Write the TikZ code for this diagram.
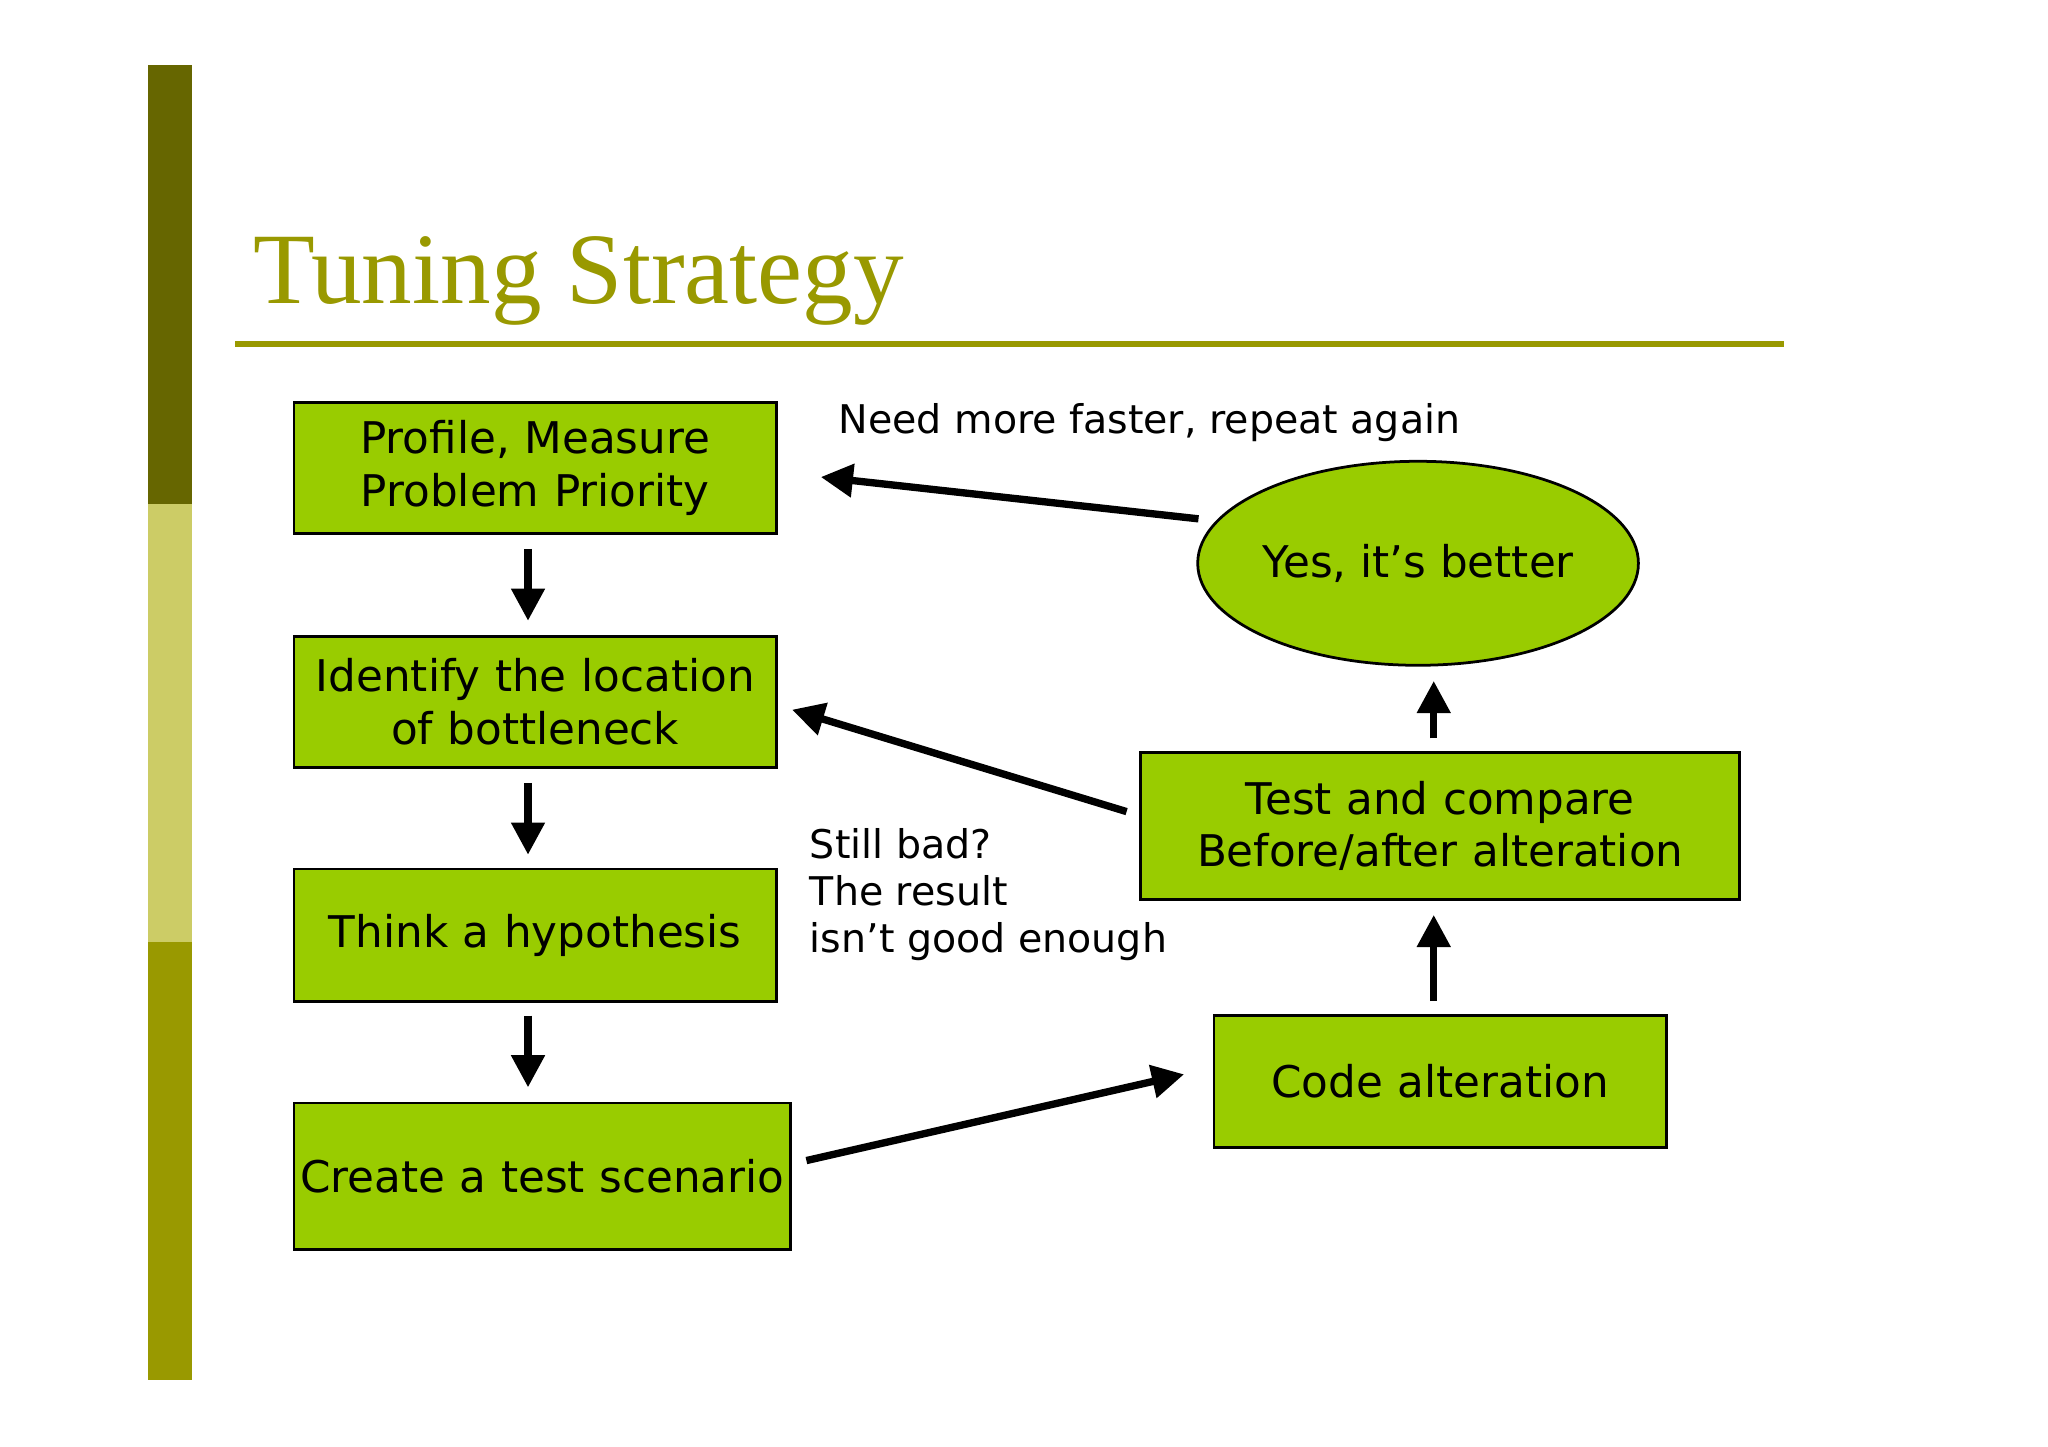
\documentclass[tikz,border=0pt]{standalone}
\usepackage{fontspec}
\setmainfont{DejaVu Sans}
\newfontfamily\titlefont{Liberation Serif}
\usetikzlibrary{arrows.meta,shapes.geometric}
\definecolor{boxg}{HTML}{99CC00}
\definecolor{olive}{HTML}{999900}
\definecolor{darkol}{HTML}{666600}
\definecolor{lightol}{HTML}{CCCC66}
\begin{document}
\begin{tikzpicture}[x=0.01cm,y=-0.01cm,
  box/.style={draw=black,fill=boxg,line width=0.6pt,inner sep=0pt,align=center,font=\fontsize{9.5}{11.4}\selectfont},
  arr/.style={-{Triangle[length=7pt,width=7pt]},line width=1.6pt},
  lbl/.style={font=\fontsize{8.6}{10.3}\selectfont,align=left,anchor=west,inner sep=0pt}]
\useasboundingbox (0,0) rectangle (1567,1107);
\fill[white] (0,0) rectangle (1567,1107);
\fill[darkol] (113,50) rectangle (147,386);
\fill[lightol] (113,386) rectangle (147,721);
\fill[olive] (113,721) rectangle (147,1056);
\node[anchor=base west,inner sep=0pt,text=olive,font=\titlefont\fontsize{22}{26}\selectfont] (title) at (193,232) {Tuning Strategy};
\draw[olive,line width=1.3pt] (180,263) -- (1365,263);
\node[box,text width=3.69cm,minimum height=1cm] (b1) at (409.5,358) {Profile, Measure\\Problem Priority};
\node[box,text width=3.69cm,minimum height=1cm] (b2) at (409.5,537) {Identify the location\\of bottleneck};
\node[box,text width=3.69cm,minimum height=1.01cm] (b3) at (409.5,715.5) {Think a hypothesis};
\node[box,text width=3.8cm,minimum height=1.12cm] (b4) at (415,900) {Create a test scenario};
\node[box,ellipse,minimum width=3.12cm,minimum height=1.56cm,inner sep=0pt] (e) at (1085,431) {Yes, it’s better};
\node[box,text width=4.58cm,minimum height=1.12cm] (t) at (1102,632) {Test and compare\\Before/after alteration};
\node[box,text width=3.46cm,minimum height=1.01cm] (c) at (1102,827.5) {Code alteration};
\coordinate (a1) at (404,420); \coordinate (a2) at (404,475);
\draw[arr] (a1) -- (a2);
\coordinate (a3) at (404,599); \coordinate (a4) at (404,654);
\draw[arr] (a3) -- (a4);
\coordinate (a5) at (404,777); \coordinate (a6) at (404,832);
\draw[arr] (a5) -- (a6);
\coordinate (p1) at (617,888); \coordinate (p2) at (906,822);
\draw[arr] (p1) -- (p2);
\coordinate (q1) at (1097,766); \coordinate (q2) at (1097,700);
\draw[arr] (q1) -- (q2);
\coordinate (r1) at (1097,565); \coordinate (r2) at (1097,521);
\draw[arr] (r1) -- (r2);
\coordinate (s1) at (862,621); \coordinate (s2) at (606,543);
\draw[arr] (s1) -- (s2);
\coordinate (u1) at (917,397); \coordinate (u2) at (628,365);
\draw[arr] (u1) -- (u2);
\node[lbl] (l1) at (641,323) {Need more faster, repeat again};
\node[lbl,anchor=north west] (l2) at (619,633) {Still bad?\\The result\\isn’t good enough};
\end{tikzpicture}
\end{document}
